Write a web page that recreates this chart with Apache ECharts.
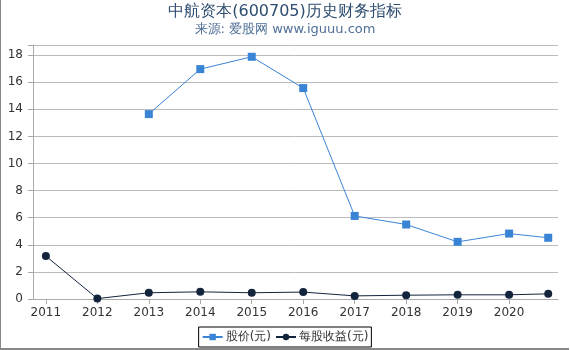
<!DOCTYPE html>
<html>
<head>
<meta charset="utf-8">
<script src="https://cdn.jsdelivr.net/npm/echarts@6/dist/echarts.min.js"></script>
<style>
  html, body { margin: 0; padding: 0; background: #fff; }
  #chart { width: 568px; height: 348px; border-left: 1px solid #888; border-bottom: 2px solid #888; }
</style>
</head>
<body>
<div id="chart"></div>
<script>
    // x positions (year), last point is a partial year
    var years = [2011, 2012, 2013, 2014, 2015, 2016, 2017, 2018, 2019, 2020, 2020.76];
    var yearLabels = [2011, 2012, 2013, 2014, 2015, 2016, 2017, 2018, 2019, 2020];
    var price = [null, null, 13.65, 16.97, 17.88, 15.57, 6.13, 5.5, 4.22, 4.83, 4.52];
    var eps = [3.17, 0.03, 0.46, 0.53, 0.46, 0.51, 0.23, 0.28, 0.31, 0.31, 0.38];

    function pairs(vals) {
        return years.map(function (y, i) { return [y, vals[i]]; });
    }

    var myChart = echarts.init(document.getElementById('chart'));
    var option = {
        textStyle: { fontFamily: 'DejaVu Sans' },
        title: {
            text: '中航资本(600705)历史财务指标',
            subtext: '来源: 爱股网 www.iguuu.com',
            left: 'center',
            top: -1,
            itemGap: 3,
            textStyle: { fontSize: 16, fontWeight: 'normal', color: '#2e4d70' },
            subtextStyle: { fontSize: 13, color: '#4f6f98' }
        },
        grid: { left: 32, right: 11, top: 45, bottom: 49 },
        xAxis: {
            type: 'value',
            min: 2010.75,
            max: 2020.95,
            splitLine: { show: false },
            axisLine: { lineStyle: { color: '#aaa' } },
            axisTick: { customValues: yearLabels, lineStyle: { color: '#aaa' } },
            axisLabel: {
                customValues: yearLabels,
                color: '#333',
                fontSize: 12,
                formatter: function (v) { return String(Math.round(v)); }
            }
        },
        yAxis: {
            type: 'value',
            min: 0,
            max: 18.75,
            interval: 2,
            axisLine: { show: true, lineStyle: { color: '#aaa' } },
            axisTick: { show: true, lineStyle: { color: '#aaa' } },
            axisLabel: {
                color: '#333', fontSize: 12, margin: 10,
                formatter: function (v) { return v % 2 === 0 ? v : ''; }
            },
            splitLine: { lineStyle: { color: '#bbb' } }
        },
        legend: {
            bottom: 1,
            left: 'center',
            borderColor: '#000',
            borderWidth: 1,
            padding: [4, 3],
            itemGap: 4,
            itemWidth: 20,
            itemHeight: 8,
            textStyle: { fontSize: 12, color: '#333', padding: [0, 0, 0, -2] },
            data: ['股价(元)', '每股收益(元)']
        },
        series: [
            {
                name: '股价(元)',
                type: 'line',
                data: pairs(price),
                symbol: 'rect',
                symbolSize: 8,
                color: '#3a84d6',
                lineStyle: { width: 1 },
                connectNulls: false
            },
            {
                name: '每股收益(元)',
                type: 'line',
                data: pairs(eps),
                symbol: 'circle',
                symbolSize: 8,
                color: '#13243d',
                lineStyle: { width: 1 }
            }
        ]
    };
    myChart.setOption(option);
</script>
</body>
</html>
